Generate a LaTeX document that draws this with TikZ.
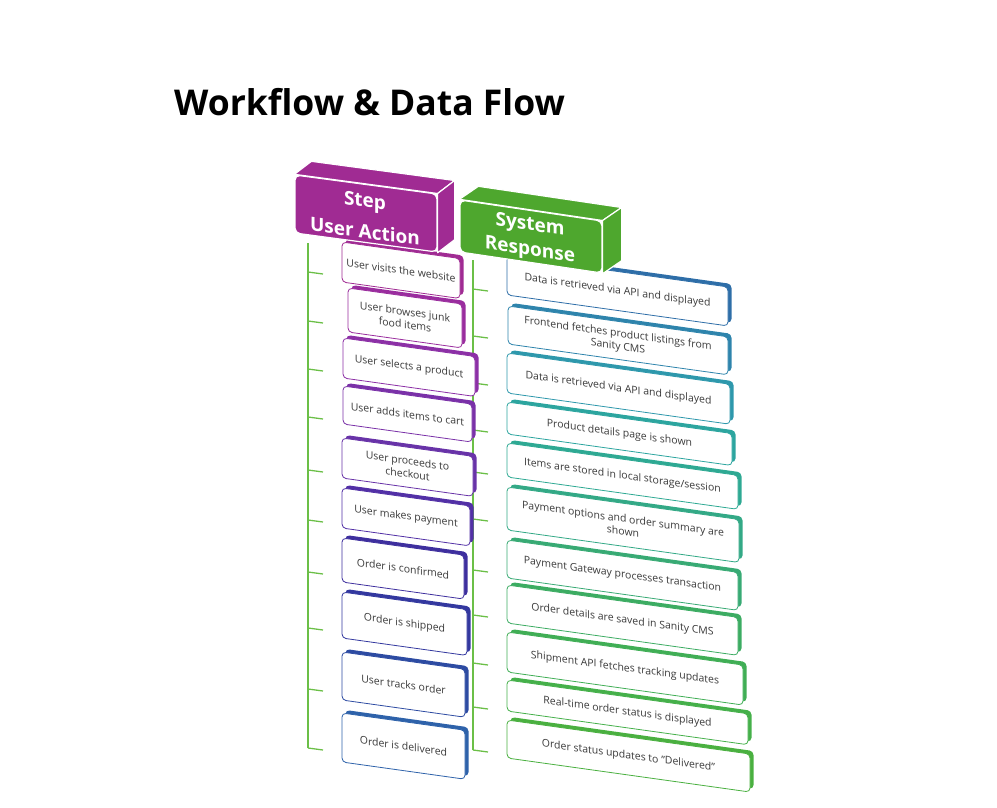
\documentclass[tikz,border=0pt]{standalone}
\usepackage{fontspec}
\setmainfont{Open Sans}
\usetikzlibrary{shadows}
\definecolor{hpurple}{HTML}{A02B93}
\definecolor{hgreen}{HTML}{4EA72E}
\definecolor{treec}{HTML}{6BBF47}
\definecolor{txt}{HTML}{3A3A3A}
\definecolor{L1}{HTML}{A02B93}
\definecolor{L2}{HTML}{9A2D9E}
\definecolor{L3}{HTML}{8C30A6}
\definecolor{L4}{HTML}{7A31A8}
\definecolor{L5}{HTML}{6833A8}
\definecolor{L6}{HTML}{5230A6}
\definecolor{L7}{HTML}{3E2F9E}
\definecolor{L8}{HTML}{33389F}
\definecolor{L9}{HTML}{2D4BA2}
\definecolor{L10}{HTML}{2E62AA}
\definecolor{R1}{HTML}{2E6EA8}
\definecolor{R2}{HTML}{2E84AC}
\definecolor{R3}{HTML}{2E98AC}
\definecolor{R4}{HTML}{2CA59F}
\definecolor{R5}{HTML}{2EA993}
\definecolor{R6}{HTML}{33A986}
\definecolor{R7}{HTML}{38AA74}
\definecolor{R8}{HTML}{3CAC62}
\definecolor{R9}{HTML}{40AE55}
\definecolor{R10}{HTML}{45B04A}
\definecolor{R11}{HTML}{4AB040}
\tikzset{
  box/.style={draw=#1, fill=white, line width=0.8pt, rounded corners=4pt,
    general shadow={fill=#1, shadow xshift=3.5pt, shadow yshift=3pt},
    text=txt, font=\fontsize{10.5}{12.8}\selectfont, align=center, inner sep=1pt, transform shape},
  hdr/.style={fill=#1, draw=white, line width=1.2pt, rounded corners=5pt, inner sep=0pt, transform shape},
  hdrtext/.style={text=white, font=\bfseries\fontsize{19}{#1}\selectfont, align=center, inner sep=0pt, transform shape},
  face/.style={fill=#1, draw=white, line width=1.2pt, line join=round},
  treeline/.style={draw=treec, line width=1.3pt},
}
\newcommand\slbox[7]{%
  \begin{scope}[shift={(#2,#3)}, yslant=-0.14]
    \node[box=#6, minimum width=#4pt, minimum height=#5pt] (#1) at (#4/2,#5/2) {#7};
  \end{scope}}
\begin{document}
\begin{tikzpicture}[x=1pt,y=-1pt]
\useasboundingbox (0,0) rectangle (997,807);
\node[anchor=base west, inner sep=0, font=\bfseries\fontsize{35.5}{40}\selectfont] (title) at (174,115) {Workflow \& Data Flow};
% tree lines
\coordinate (ltop) at (308,243);
\coordinate (lbot) at (308,748);
\draw[treeline] (ltop) -- (lbot);
\foreach \y [count=\i] in {272,321,369,417,470,520,572,628,689,748}{
  \coordinate (lt\i) at (308,\y);
  \draw[treeline] (lt\i) -- ++(15,2);
}
\coordinate (rtop) at (473,260);
\coordinate (rbot) at (473,750);
\draw[treeline] (rtop) -- (rbot);
\foreach \y [count=\i] in {289,336,383,430,472,519,570,615,663,707,750}{
  \coordinate (rt\i) at (473,\y);
  \draw[treeline] (rt\i) -- ++(15,2);
}
% left boxes
\slbox{b1}{342}{242}{118}{40}{L1}{User visits the website}
\slbox{b2}{348}{288}{114}{44}{L2}{User browses junk\\food items}
\slbox{b3}{343}{338}{132}{40}{L3}{User selects a product}
\slbox{b4}{343}{386}{129}{38}{L4}{User adds items to cart}
\slbox{b5}{342}{438}{131}{40}{L5}{User proceeds to\\checkout}
\slbox{b6}{342}{488}{128}{40}{L6}{User makes payment}
\slbox{b7}{342}{538}{122}{44}{L7}{Order is confirmed}
\slbox{b8}{342}{592}{125}{46}{L8}{Order is shipped}
\slbox{b9}{342}{652}{123}{48}{L9}{User tracks order}
\slbox{b10}{342}{713}{123}{49}{L10}{Order is delivered}
% right boxes
\slbox{c1}{507}{256}{221}{39}{R1}{Data is retrieved via API and displayed}
\slbox{c2}{508}{306}{220}{38}{R2}{Frontend fetches product listings from\\Sanity CMS}
\slbox{c3}{507}{353}{223}{40}{R3}{Data is retrieved via API and displayed}
\slbox{c4}{507}{402}{225}{32}{R4}{Product details page is shown}
\slbox{c5}{507}{443}{231}{34}{R5}{Items are stored in local storage/session}
\slbox{c6}{507}{487}{232}{43}{R6}{Payment options and order summary are\\shown}
\slbox{c7}{507}{540}{231}{38}{R7}{Payment Gateway processes transaction}
\slbox{c8}{507}{585}{231}{38}{R8}{Order details are saved in Sanity CMS}
\slbox{c9}{507}{632}{236}{40}{R9}{Shipment API fetches tracking updates}
\slbox{c10}{507}{680}{241}{31}{R10}{Real-time order status is displayed}
\slbox{c11}{507}{720}{243}{38}{R11}{Order status updates to "Delivered"}
% headers
\begin{scope}[shift={(295,175)}, yslant=-0.134]
  \node[hdr=hpurple, minimum width=142pt, minimum height=58pt] (h1) at (71,29) {};
\end{scope}
\draw[face=hpurple] (h1.north west) -- (h1.north east) -- ++(17,-13) -- ([shift={(17,-13)}]h1.north west) -- cycle;
\draw[face=hpurple] (h1.north east) -- ++(17,-13) -- ([shift={(17,-13)}]h1.south east) -- (h1.south east) -- cycle;
\begin{scope}[shift={(295,175)}, yslant=-0.134]
  \node[hdrtext=31] (h1t) at (70,31.5) {Step\\User Action};
\end{scope}
\begin{scope}[shift={(460,200)}, yslant=-0.148]
  \node[hdr=hgreen, minimum width=142pt, minimum height=52pt] (h2) at (71,26) {};
\end{scope}
\draw[face=hgreen] (h2.north west) -- (h2.north east) -- ++(19,-13) -- ([shift={(19,-13)}]h2.north west) -- cycle;
\draw[face=hgreen] (h2.north east) -- ++(19,-13) -- ([shift={(19,-13)}]h2.south east) -- (h2.south east) -- cycle;
\begin{scope}[shift={(460,200)}, yslant=-0.148]
  \node[hdrtext=25] (h2t) at (70,28) {System\\Response};
\end{scope}
\end{tikzpicture}
\end{document}
